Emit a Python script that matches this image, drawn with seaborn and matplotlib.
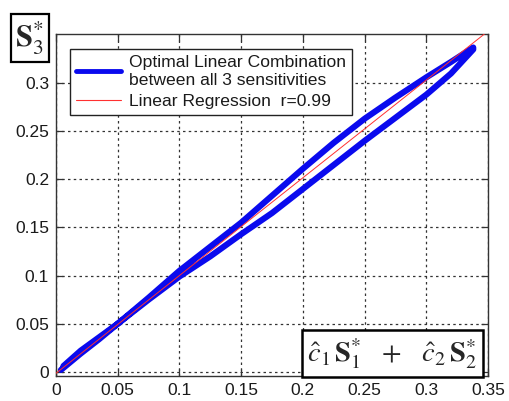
import matplotlib
matplotlib.use("Agg")
import matplotlib.pyplot as plt
import seaborn as sns
import pandas as pd

# ---- data ----
x_up = [0.004, 0.02, 0.035, 0.05, 0.075, 0.1, 0.125, 0.15, 0.175, 0.2, 0.225, 0.25, 0.275, 0.3, 0.32, 0.338]
y_up = [0.002, 0.019, 0.034, 0.050, 0.077, 0.105, 0.130, 0.155, 0.183, 0.211, 0.238, 0.263, 0.285, 0.306, 0.322, 0.337]
x_lo = [0.338, 0.32, 0.3, 0.275, 0.25, 0.225, 0.2, 0.175, 0.15, 0.125, 0.1, 0.075, 0.05, 0.035, 0.02, 0.006]
y_lo = [0.335, 0.310, 0.288, 0.264, 0.240, 0.215, 0.190, 0.165, 0.143, 0.120, 0.099, 0.075, 0.050, 0.036, 0.022, 0.006]
reg_x = [0.0, 0.35]
reg_y = [-0.0015, 0.354]
x_ticks = [0, 0.05, 0.1, 0.15, 0.2, 0.25, 0.3, 0.35]
x_tick_labels = ["0", "0.05", "0.1", "0.15", "0.2", "0.25", "0.3", "0.35"]
y_ticks = [0, 0.05, 0.1, 0.15, 0.2, 0.25, 0.3]
y_tick_labels = ["0", "0.05", "0.1", "0.15", "0.2", "0.25", "0.3"]
label_loop = "Optimal Linear Combination\nbetween all 3 sensitivities"
label_reg = "Linear Regression  r=0.99"

loop = pd.DataFrame({"x": x_up + x_lo, "y": y_up + y_lo})
reg = pd.DataFrame({"x": reg_x, "y": reg_y})

sns.set_theme(style="white")
plt.rcParams["font.family"] = ["Liberation Sans", "DejaVu Sans"]
plt.rcParams["mathtext.fontset"] = "stix"

fig = plt.figure(figsize=(5.10, 4.01), dpi=100)
fig.patch.set_facecolor("white")
ax = fig.add_axes([0.1098, 0.0631, 0.8472, 0.8521])
ax.set_facecolor("white")

sns.lineplot(data=loop, x="x", y="y", sort=False, estimator=None, ax=ax,
             color="#0a0aee", linewidth=4.4, label=label_loop,
             solid_capstyle="round", solid_joinstyle="round", zorder=3)
sns.lineplot(data=reg, x="x", y="y", sort=False, estimator=None, ax=ax,
             color="#ff3030", linewidth=0.7, label=label_reg, zorder=4)

ax.set_xlim(0, 0.35)
ax.set_ylim(-0.004, 0.351)
ax.set_xticks(x_ticks)
ax.set_xticklabels(x_tick_labels)
ax.set_yticks(y_ticks)
ax.set_yticklabels(y_tick_labels)
ax.set_xlabel("")
ax.set_ylabel("")

ax.grid(True, color="#333333", linestyle=(0, (2, 2.6)), linewidth=0.9)
ax.tick_params(direction="in", length=5, width=0.9, color="#333333",
               top=True, right=True, bottom=True, left=True,
               labelsize=12.5, labelcolor="#1a1a1a", pad=5)
for s in ax.spines.values():
    s.set_color("#333333")
    s.set_linewidth(1.0)
    s.set_visible(True)

leg = ax.legend(loc="upper left", bbox_to_anchor=(0.012, 0.982), fontsize=12.6,
                frameon=True, fancybox=False, framealpha=1, edgecolor="#222222",
                handlelength=2.6, borderpad=0.32, labelspacing=0.32, handletextpad=0.45)
leg.get_frame().set_linewidth(1.0)
for t in leg.get_texts():
    t.set_color("#1a1a1a")
    t.set_linespacing(1.3)
handles = leg.legend_handles if hasattr(leg, "legend_handles") else leg.legendHandles
handles[0].set_linewidth(3.5)
handles[1].set_linewidth(0.8)

fig.text(0.0585, 0.905, r"$\mathbf{S}_3^{*}$", fontsize=22, ha="center", va="center",
         bbox=dict(boxstyle="square,pad=0.16", facecolor="white", edgecolor="black", linewidth=1.6))
ax.text(0.976, 0.065, r"$\hat{c}_1\,\mathbf{S}_1^{*}\;\;\,+\;\;\;\hat{c}_2\,\mathbf{S}_2^{*}$",
        transform=ax.transAxes, fontsize=20.5, ha="right", va="center", zorder=6,
        bbox=dict(boxstyle="square,pad=0.2", facecolor="white", edgecolor="black", linewidth=1.8))

fig.savefig("out.png", dpi=100, facecolor="white")
